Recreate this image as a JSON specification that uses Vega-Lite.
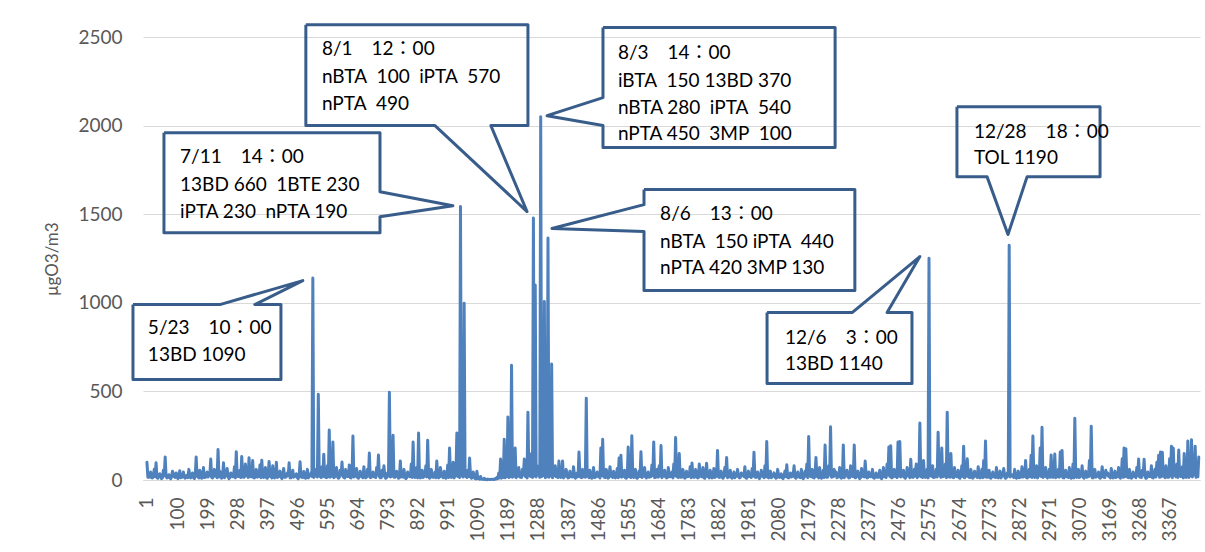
{
"$schema":"https://vega.github.io/schema/vega-lite/v6.json",
"width":1057,"height":443,
"autosize":{"type":"none"},
"padding":{"left":143,"top":37,"right":5,"bottom":72},
"background":"white",
"config":{"view":{"stroke":null},"font":"Lato","axis":{"labelOverlap":false}},
"datasets":{
"series":[
{"x":1,"y":100},{"x":4,"y":16},{"x":7,"y":15},{"x":10,"y":22},{"x":13,"y":45},{"x":16,"y":13},{"x":19,"y":12},{"x":22,"y":26},{"x":25,"y":60},{"x":28,"y":18},{"x":31,"y":97},{"x":34,"y":14},{"x":37,"y":10},{"x":40,"y":28},{"x":43,"y":35},{"x":46,"y":20},{"x":49,"y":8},{"x":52,"y":12},{"x":55,"y":55},{"x":58,"y":24},
{"x":61,"y":130},{"x":64,"y":20},{"x":67,"y":12},{"x":70,"y":14},{"x":73,"y":30},{"x":76,"y":23},{"x":79,"y":6},{"x":82,"y":17},{"x":85,"y":50},{"x":88,"y":30},{"x":91,"y":18},{"x":94,"y":15},{"x":97,"y":40},{"x":100,"y":19},{"x":103,"y":8},{"x":106,"y":25},{"x":109,"y":52},{"x":112,"y":13},{"x":115,"y":15},{"x":118,"y":18},
{"x":121,"y":45},{"x":124,"y":16},{"x":127,"y":10},{"x":130,"y":22},{"x":133,"y":28},{"x":136,"y":13},{"x":139,"y":60},{"x":142,"y":26},{"x":145,"y":12},{"x":148,"y":18},{"x":151,"y":40},{"x":154,"y":14},{"x":157,"y":8},{"x":160,"y":28},{"x":163,"y":130},{"x":166,"y":20},{"x":169,"y":20},{"x":172,"y":12},{"x":175,"y":55},{"x":178,"y":24},
{"x":181,"y":10},{"x":184,"y":20},{"x":187,"y":70},{"x":190,"y":14},{"x":193,"y":15},{"x":196,"y":23},{"x":199,"y":45},{"x":202,"y":17},{"x":205,"y":25},{"x":208,"y":30},{"x":211,"y":118},{"x":214,"y":15},{"x":217,"y":12},{"x":220,"y":19},{"x":223,"y":60},{"x":226,"y":25},{"x":229,"y":20},{"x":232,"y":13},{"x":235,"y":172},{"x":238,"y":18},
{"x":241,"y":50},{"x":244,"y":16},{"x":247,"y":10},{"x":250,"y":22},{"x":253,"y":97},{"x":256,"y":13},{"x":259,"y":22},{"x":262,"y":26},{"x":265,"y":65},{"x":268,"y":18},{"x":271,"y":8},{"x":274,"y":14},{"x":277,"y":40},{"x":280,"y":28},{"x":283,"y":18},{"x":286,"y":20},{"x":289,"y":75},{"x":292,"y":12},{"x":295,"y":160},{"x":298,"y":24},
{"x":301,"y":20},{"x":304,"y":20},{"x":307,"y":55},{"x":310,"y":14},{"x":313,"y":133},{"x":316,"y":23},{"x":319,"y":15},{"x":322,"y":17},{"x":325,"y":90},{"x":328,"y":30},{"x":331,"y":25},{"x":334,"y":15},{"x":337,"y":125},{"x":340,"y":19},{"x":343,"y":18},{"x":346,"y":25},{"x":349,"y":110},{"x":352,"y":13},{"x":355,"y":12},{"x":358,"y":18},
{"x":361,"y":60},{"x":364,"y":16},{"x":367,"y":20},{"x":370,"y":22},{"x":373,"y":85},{"x":376,"y":13},{"x":379,"y":112},{"x":382,"y":26},{"x":385,"y":15},{"x":388,"y":18},{"x":391,"y":70},{"x":394,"y":14},{"x":397,"y":10},{"x":400,"y":28},{"x":403,"y":105},{"x":406,"y":20},{"x":409,"y":22},{"x":412,"y":12},{"x":415,"y":80},{"x":418,"y":24},
{"x":421,"y":12},{"x":424,"y":20},{"x":427,"y":100},{"x":430,"y":14},{"x":433,"y":18},{"x":436,"y":23},{"x":439,"y":50},{"x":442,"y":17},{"x":445,"y":8},{"x":448,"y":30},{"x":451,"y":65},{"x":454,"y":15},{"x":457,"y":15},{"x":460,"y":19},{"x":463,"y":40},{"x":466,"y":25},{"x":469,"y":97},{"x":472,"y":13},{"x":475,"y":12},{"x":478,"y":18},
{"x":481,"y":55},{"x":484,"y":16},{"x":487,"y":20},{"x":490,"y":22},{"x":493,"y":35},{"x":496,"y":13},{"x":499,"y":8},{"x":502,"y":26},{"x":505,"y":103},{"x":508,"y":18},{"x":511,"y":15},{"x":514,"y":14},{"x":517,"y":48},{"x":520,"y":28},{"x":523,"y":10},{"x":526,"y":20},{"x":529,"y":60},{"x":532,"y":12},{"x":535,"y":25},{"x":538,"y":24},
{"x":541,"y":40},{"x":544,"y":20},{"x":547,"y":1140},{"x":550,"y":14},{"x":553,"y":30},{"x":556,"y":23},{"x":559,"y":60},{"x":562,"y":17},{"x":565,"y":484},{"x":568,"y":30},{"x":571,"y":20},{"x":574,"y":15},{"x":577,"y":75},{"x":580,"y":19},{"x":583,"y":146},{"x":586,"y":25},{"x":589,"y":15},{"x":592,"y":13},{"x":595,"y":80},{"x":598,"y":18},
{"x":601,"y":282},{"x":604,"y":16},{"x":607,"y":25},{"x":610,"y":22},{"x":613,"y":214},{"x":616,"y":13},{"x":619,"y":18},{"x":622,"y":26},{"x":625,"y":70},{"x":628,"y":18},{"x":631,"y":10},{"x":634,"y":14},{"x":637,"y":55},{"x":640,"y":28},{"x":643,"y":101},{"x":646,"y":20},{"x":649,"y":15},{"x":652,"y":12},{"x":655,"y":60},{"x":658,"y":24},
{"x":661,"y":20},{"x":664,"y":20},{"x":667,"y":85},{"x":670,"y":14},{"x":673,"y":12},{"x":676,"y":23},{"x":679,"y":248},{"x":682,"y":17},{"x":685,"y":20},{"x":688,"y":30},{"x":691,"y":65},{"x":694,"y":15},{"x":697,"y":10},{"x":700,"y":19},{"x":703,"y":50},{"x":706,"y":25},{"x":709,"y":18},{"x":712,"y":13},{"x":715,"y":75},{"x":718,"y":18},
{"x":721,"y":12},{"x":724,"y":16},{"x":727,"y":60},{"x":730,"y":22},{"x":733,"y":152},{"x":736,"y":13},{"x":739,"y":15},{"x":742,"y":26},{"x":745,"y":45},{"x":748,"y":18},{"x":751,"y":20},{"x":754,"y":14},{"x":757,"y":70},{"x":760,"y":28},{"x":763,"y":141},{"x":766,"y":20},{"x":769,"y":12},{"x":772,"y":12},{"x":775,"y":55},{"x":778,"y":24},
{"x":781,"y":80},{"x":784,"y":20},{"x":787,"y":10},{"x":790,"y":14},{"x":793,"y":40},{"x":796,"y":23},{"x":799,"y":495},{"x":802,"y":17},{"x":805,"y":20},{"x":808,"y":30},{"x":811,"y":253},{"x":814,"y":15},{"x":817,"y":15},{"x":820,"y":19},{"x":823,"y":50},{"x":826,"y":25},{"x":829,"y":10},{"x":832,"y":13},{"x":835,"y":107},{"x":838,"y":18},
{"x":841,"y":18},{"x":844,"y":16},{"x":847,"y":60},{"x":850,"y":22},{"x":853,"y":8},{"x":856,"y":13},{"x":859,"y":45},{"x":862,"y":26},{"x":865,"y":20},{"x":868,"y":18},{"x":871,"y":90},{"x":874,"y":14},{"x":877,"y":214},{"x":880,"y":28},{"x":883,"y":15},{"x":886,"y":20},{"x":889,"y":70},{"x":892,"y":12},{"x":895,"y":265},{"x":898,"y":24},
{"x":901,"y":12},{"x":904,"y":20},{"x":907,"y":55},{"x":910,"y":14},{"x":913,"y":20},{"x":916,"y":23},{"x":919,"y":80},{"x":922,"y":17},{"x":925,"y":225},{"x":928,"y":30},{"x":931,"y":10},{"x":934,"y":15},{"x":937,"y":60},{"x":940,"y":19},{"x":943,"y":15},{"x":946,"y":25},{"x":949,"y":45},{"x":952,"y":13},{"x":955,"y":107},{"x":958,"y":18},
{"x":961,"y":12},{"x":964,"y":16},{"x":967,"y":70},{"x":970,"y":22},{"x":973,"y":20},{"x":976,"y":13},{"x":979,"y":50},{"x":982,"y":26},{"x":985,"y":10},{"x":988,"y":18},{"x":991,"y":85},{"x":994,"y":14},{"x":997,"y":180},{"x":1000,"y":28},{"x":1003,"y":15},{"x":1006,"y":20},{"x":1009,"y":100},{"x":1012,"y":12},{"x":1015,"y":25},{"x":1018,"y":24},
{"x":1021,"y":265},{"x":1024,"y":20},{"x":1027,"y":40},{"x":1030,"y":14},{"x":1033,"y":1543},{"x":1036,"y":23},{"x":1039,"y":60},{"x":1042,"y":17},{"x":1045,"y":997},{"x":1048,"y":30},{"x":1051,"y":20},{"x":1054,"y":15},{"x":1057,"y":55},{"x":1060,"y":19},{"x":1063,"y":124},{"x":1066,"y":25},{"x":1069,"y":10},{"x":1072,"y":13},{"x":1075,"y":45},{"x":1078,"y":18},
{"x":1081,"y":8},{"x":1084,"y":6},{"x":1087,"y":50},{"x":1090,"y":8},{"x":1093,"y":12},{"x":1096,"y":4},{"x":1099,"y":20},{"x":1102,"y":5},{"x":1105,"y":6},{"x":1108,"y":3},{"x":1111,"y":10},{"x":1114,"y":3},{"x":1117,"y":4},{"x":1120,"y":2},{"x":1123,"y":5},{"x":1126,"y":3},{"x":1129,"y":3},{"x":1132,"y":3},{"x":1135,"y":4},{"x":1138,"y":4},
{"x":1141,"y":3},{"x":1144,"y":3},{"x":1147,"y":8},{"x":1150,"y":5},{"x":1153,"y":15},{"x":1156,"y":8},{"x":1159,"y":40},{"x":1162,"y":12},{"x":1165,"y":118},{"x":1168,"y":10},{"x":1171,"y":30},{"x":1174,"y":15},{"x":1177,"y":230},{"x":1180,"y":12},{"x":1183,"y":60},{"x":1186,"y":20},{"x":1189,"y":355},{"x":1192,"y":14},{"x":1195,"y":80},{"x":1198,"y":18},
{"x":1201,"y":648},{"x":1204,"y":16},{"x":1207,"y":40},{"x":1210,"y":22},{"x":1213,"y":180},{"x":1216,"y":13},{"x":1219,"y":20},{"x":1222,"y":26},{"x":1225,"y":70},{"x":1228,"y":18},{"x":1231,"y":15},{"x":1234,"y":14},{"x":1237,"y":60},{"x":1240,"y":28},{"x":1243,"y":118},{"x":1246,"y":20},{"x":1249,"y":30},{"x":1252,"y":12},{"x":1255,"y":383},{"x":1258,"y":24},
{"x":1261,"y":60},{"x":1264,"y":20},{"x":1267,"y":150},{"x":1270,"y":14},{"x":1273,"y":1478},{"x":1276,"y":23},{"x":1279,"y":1100},{"x":1282,"y":17},{"x":1285,"y":80},{"x":1288,"y":30},{"x":1291,"y":40},{"x":1294,"y":15},{"x":1297,"y":2050},{"x":1300,"y":19},{"x":1303,"y":60},{"x":1306,"y":25},{"x":1309,"y":1008},{"x":1312,"y":13},{"x":1315,"y":90},{"x":1318,"y":18},
{"x":1321,"y":1365},{"x":1324,"y":16},{"x":1327,"y":50},{"x":1330,"y":22},{"x":1333,"y":655},{"x":1336,"y":13},{"x":1339,"y":30},{"x":1342,"y":26},{"x":1345,"y":80},{"x":1348,"y":18},{"x":1351,"y":20},{"x":1354,"y":14},{"x":1357,"y":107},{"x":1360,"y":28},{"x":1363,"y":15},{"x":1366,"y":20},{"x":1369,"y":107},{"x":1372,"y":12},{"x":1375,"y":20},{"x":1378,"y":24},
{"x":1381,"y":60},{"x":1384,"y":20},{"x":1387,"y":12},{"x":1390,"y":14},{"x":1393,"y":50},{"x":1396,"y":23},{"x":1399,"y":18},{"x":1402,"y":17},{"x":1405,"y":75},{"x":1408,"y":30},{"x":1411,"y":10},{"x":1414,"y":15},{"x":1417,"y":40},{"x":1420,"y":19},{"x":1423,"y":158},{"x":1426,"y":25},{"x":1429,"y":15},{"x":1432,"y":13},{"x":1435,"y":60},{"x":1438,"y":18},
{"x":1441,"y":25},{"x":1444,"y":16},{"x":1447,"y":462},{"x":1450,"y":22},{"x":1453,"y":20},{"x":1456,"y":13},{"x":1459,"y":55},{"x":1462,"y":26},{"x":1465,"y":10},{"x":1468,"y":18},{"x":1471,"y":70},{"x":1474,"y":14},{"x":1477,"y":15},{"x":1480,"y":28},{"x":1483,"y":45},{"x":1486,"y":20},{"x":1489,"y":20},{"x":1492,"y":12},{"x":1495,"y":180},{"x":1498,"y":24},
{"x":1501,"y":230},{"x":1504,"y":20},{"x":1507,"y":15},{"x":1510,"y":14},{"x":1513,"y":60},{"x":1516,"y":23},{"x":1519,"y":10},{"x":1522,"y":17},{"x":1525,"y":75},{"x":1528,"y":30},{"x":1531,"y":20},{"x":1534,"y":15},{"x":1537,"y":50},{"x":1540,"y":19},{"x":1543,"y":12},{"x":1546,"y":25},{"x":1549,"y":65},{"x":1552,"y":13},{"x":1555,"y":124},{"x":1558,"y":18},
{"x":1561,"y":140},{"x":1564,"y":16},{"x":1567,"y":20},{"x":1570,"y":22},{"x":1573,"y":55},{"x":1576,"y":13},{"x":1579,"y":10},{"x":1582,"y":26},{"x":1585,"y":186},{"x":1588,"y":18},{"x":1591,"y":25},{"x":1594,"y":14},{"x":1597,"y":250},{"x":1600,"y":28},{"x":1603,"y":15},{"x":1606,"y":20},{"x":1609,"y":60},{"x":1612,"y":12},{"x":1615,"y":10},{"x":1618,"y":24},
{"x":1621,"y":50},{"x":1624,"y":20},{"x":1627,"y":160},{"x":1630,"y":14},{"x":1633,"y":20},{"x":1636,"y":23},{"x":1639,"y":70},{"x":1642,"y":17},{"x":1645,"y":12},{"x":1648,"y":30},{"x":1651,"y":45},{"x":1654,"y":15},{"x":1657,"y":25},{"x":1660,"y":19},{"x":1663,"y":85},{"x":1666,"y":25},{"x":1669,"y":215},{"x":1672,"y":13},{"x":1675,"y":15},{"x":1678,"y":18},
{"x":1681,"y":60},{"x":1684,"y":16},{"x":1687,"y":80},{"x":1690,"y":22},{"x":1693,"y":194},{"x":1696,"y":13},{"x":1699,"y":20},{"x":1702,"y":26},{"x":1705,"y":55},{"x":1708,"y":18},{"x":1711,"y":12},{"x":1714,"y":14},{"x":1717,"y":70},{"x":1720,"y":28},{"x":1723,"y":18},{"x":1726,"y":20},{"x":1729,"y":45},{"x":1732,"y":12},{"x":1735,"y":90},{"x":1738,"y":24},
{"x":1741,"y":240},{"x":1744,"y":20},{"x":1747,"y":20},{"x":1750,"y":14},{"x":1753,"y":150},{"x":1756,"y":23},{"x":1759,"y":15},{"x":1762,"y":17},{"x":1765,"y":60},{"x":1768,"y":30},{"x":1771,"y":10},{"x":1774,"y":15},{"x":1777,"y":50},{"x":1780,"y":19},{"x":1783,"y":20},{"x":1786,"y":25},{"x":1789,"y":75},{"x":1792,"y":13},{"x":1795,"y":96},{"x":1798,"y":18},
{"x":1801,"y":15},{"x":1804,"y":16},{"x":1807,"y":60},{"x":1810,"y":22},{"x":1813,"y":12},{"x":1816,"y":13},{"x":1819,"y":90},{"x":1822,"y":26},{"x":1825,"y":20},{"x":1828,"y":18},{"x":1831,"y":70},{"x":1834,"y":14},{"x":1837,"y":10},{"x":1840,"y":28},{"x":1843,"y":95},{"x":1846,"y":20},{"x":1849,"y":25},{"x":1852,"y":12},{"x":1855,"y":55},{"x":1858,"y":24},
{"x":1861,"y":12},{"x":1864,"y":20},{"x":1867,"y":65},{"x":1870,"y":14},{"x":1873,"y":20},{"x":1876,"y":23},{"x":1879,"y":167},{"x":1882,"y":17},{"x":1885,"y":15},{"x":1888,"y":30},{"x":1891,"y":50},{"x":1894,"y":15},{"x":1897,"y":10},{"x":1900,"y":19},{"x":1903,"y":70},{"x":1906,"y":25},{"x":1909,"y":127},{"x":1912,"y":13},{"x":1915,"y":18},{"x":1918,"y":18},
{"x":1921,"y":55},{"x":1924,"y":16},{"x":1927,"y":10},{"x":1930,"y":22},{"x":1933,"y":45},{"x":1936,"y":13},{"x":1939,"y":20},{"x":1942,"y":26},{"x":1945,"y":60},{"x":1948,"y":18},{"x":1951,"y":12},{"x":1954,"y":14},{"x":1957,"y":40},{"x":1960,"y":28},{"x":1963,"y":25},{"x":1966,"y":20},{"x":1969,"y":75},{"x":1972,"y":12},{"x":1975,"y":10},{"x":1978,"y":24},
{"x":1981,"y":50},{"x":1984,"y":20},{"x":1987,"y":20},{"x":1990,"y":14},{"x":1993,"y":65},{"x":1996,"y":23},{"x":1999,"y":157},{"x":2002,"y":17},{"x":2005,"y":15},{"x":2008,"y":30},{"x":2011,"y":45},{"x":2014,"y":15},{"x":2017,"y":8},{"x":2020,"y":19},{"x":2023,"y":55},{"x":2026,"y":25},{"x":2029,"y":20},{"x":2032,"y":13},{"x":2035,"y":80},{"x":2038,"y":18},
{"x":2041,"y":217},{"x":2044,"y":16},{"x":2047,"y":12},{"x":2050,"y":22},{"x":2053,"y":50},{"x":2056,"y":13},{"x":2059,"y":18},{"x":2062,"y":26},{"x":2065,"y":40},{"x":2068,"y":18},{"x":2071,"y":10},{"x":2074,"y":14},{"x":2077,"y":60},{"x":2080,"y":28},{"x":2083,"y":15},{"x":2086,"y":20},{"x":2089,"y":35},{"x":2092,"y":12},{"x":2095,"y":8},{"x":2098,"y":24},
{"x":2101,"y":50},{"x":2104,"y":20},{"x":2107,"y":86},{"x":2110,"y":14},{"x":2113,"y":12},{"x":2116,"y":23},{"x":2119,"y":40},{"x":2122,"y":17},{"x":2125,"y":20},{"x":2128,"y":30},{"x":2131,"y":80},{"x":2134,"y":15},{"x":2137,"y":10},{"x":2140,"y":19},{"x":2143,"y":45},{"x":2146,"y":25},{"x":2149,"y":15},{"x":2152,"y":13},{"x":2155,"y":60},{"x":2158,"y":18},
{"x":2161,"y":8},{"x":2164,"y":16},{"x":2167,"y":50},{"x":2170,"y":22},{"x":2173,"y":90},{"x":2176,"y":13},{"x":2179,"y":245},{"x":2182,"y":26},{"x":2185,"y":20},{"x":2188,"y":18},{"x":2191,"y":60},{"x":2194,"y":14},{"x":2197,"y":12},{"x":2200,"y":28},{"x":2203,"y":127},{"x":2206,"y":20},{"x":2209,"y":25},{"x":2212,"y":12},{"x":2215,"y":70},{"x":2218,"y":24},
{"x":2221,"y":10},{"x":2224,"y":20},{"x":2227,"y":55},{"x":2230,"y":14},{"x":2233,"y":197},{"x":2236,"y":23},{"x":2239,"y":15},{"x":2242,"y":17},{"x":2245,"y":80},{"x":2248,"y":30},{"x":2251,"y":300},{"x":2254,"y":15},{"x":2257,"y":20},{"x":2260,"y":19},{"x":2263,"y":60},{"x":2266,"y":25},{"x":2269,"y":45},{"x":2272,"y":13},{"x":2275,"y":18},{"x":2278,"y":18},
{"x":2281,"y":70},{"x":2284,"y":16},{"x":2287,"y":10},{"x":2290,"y":22},{"x":2293,"y":197},{"x":2296,"y":13},{"x":2299,"y":25},{"x":2302,"y":26},{"x":2305,"y":55},{"x":2308,"y":18},{"x":2311,"y":12},{"x":2314,"y":14},{"x":2317,"y":80},{"x":2320,"y":28},{"x":2323,"y":20},{"x":2326,"y":20},{"x":2329,"y":197},{"x":2332,"y":12},{"x":2335,"y":15},{"x":2338,"y":24},
{"x":2341,"y":50},{"x":2344,"y":20},{"x":2347,"y":8},{"x":2350,"y":14},{"x":2353,"y":65},{"x":2356,"y":23},{"x":2359,"y":20},{"x":2362,"y":17},{"x":2365,"y":107},{"x":2368,"y":30},{"x":2371,"y":12},{"x":2374,"y":15},{"x":2377,"y":45},{"x":2380,"y":19},{"x":2383,"y":18},{"x":2386,"y":25},{"x":2389,"y":60},{"x":2392,"y":13},{"x":2395,"y":10},{"x":2398,"y":18},
{"x":2401,"y":40},{"x":2404,"y":16},{"x":2407,"y":15},{"x":2410,"y":22},{"x":2413,"y":55},{"x":2416,"y":13},{"x":2419,"y":8},{"x":2422,"y":26},{"x":2425,"y":70},{"x":2428,"y":18},{"x":2431,"y":20},{"x":2434,"y":14},{"x":2437,"y":90},{"x":2440,"y":28},{"x":2443,"y":186},{"x":2446,"y":20},{"x":2449,"y":193},{"x":2452,"y":12},{"x":2455,"y":15},{"x":2458,"y":24},
{"x":2461,"y":60},{"x":2464,"y":20},{"x":2467,"y":25},{"x":2470,"y":14},{"x":2473,"y":214},{"x":2476,"y":23},{"x":2479,"y":217},{"x":2482,"y":17},{"x":2485,"y":20},{"x":2488,"y":30},{"x":2491,"y":55},{"x":2494,"y":15},{"x":2497,"y":10},{"x":2500,"y":19},{"x":2503,"y":70},{"x":2506,"y":25},{"x":2509,"y":25},{"x":2512,"y":13},{"x":2515,"y":117},{"x":2518,"y":18},
{"x":2521,"y":15},{"x":2524,"y":16},{"x":2527,"y":60},{"x":2530,"y":22},{"x":2533,"y":90},{"x":2536,"y":13},{"x":2539,"y":20},{"x":2542,"y":26},{"x":2545,"y":321},{"x":2548,"y":18},{"x":2551,"y":30},{"x":2554,"y":14},{"x":2557,"y":110},{"x":2560,"y":28},{"x":2563,"y":15},{"x":2566,"y":20},{"x":2569,"y":60},{"x":2572,"y":12},{"x":2575,"y":1252},{"x":2578,"y":24},
{"x":2581,"y":40},{"x":2584,"y":20},{"x":2587,"y":80},{"x":2590,"y":14},{"x":2593,"y":15},{"x":2596,"y":23},{"x":2599,"y":60},{"x":2602,"y":17},{"x":2605,"y":270},{"x":2608,"y":30},{"x":2611,"y":30},{"x":2614,"y":15},{"x":2617,"y":180},{"x":2620,"y":19},{"x":2623,"y":20},{"x":2626,"y":25},{"x":2629,"y":90},{"x":2632,"y":13},{"x":2635,"y":383},{"x":2638,"y":18},
{"x":2641,"y":25},{"x":2644,"y":16},{"x":2647,"y":150},{"x":2650,"y":22},{"x":2653,"y":15},{"x":2656,"y":13},{"x":2659,"y":70},{"x":2662,"y":26},{"x":2665,"y":20},{"x":2668,"y":18},{"x":2671,"y":55},{"x":2674,"y":14},{"x":2677,"y":10},{"x":2680,"y":28},{"x":2683,"y":80},{"x":2686,"y":20},{"x":2689,"y":191},{"x":2692,"y":12},{"x":2695,"y":20},{"x":2698,"y":24},
{"x":2701,"y":120},{"x":2704,"y":20},{"x":2707,"y":15},{"x":2710,"y":14},{"x":2713,"y":60},{"x":2716,"y":23},{"x":2719,"y":10},{"x":2722,"y":17},{"x":2725,"y":50},{"x":2728,"y":30},{"x":2731,"y":20},{"x":2734,"y":15},{"x":2737,"y":75},{"x":2740,"y":19},{"x":2743,"y":12},{"x":2746,"y":25},{"x":2749,"y":60},{"x":2752,"y":13},{"x":2755,"y":110},{"x":2758,"y":18},
{"x":2761,"y":220},{"x":2764,"y":16},{"x":2767,"y":15},{"x":2770,"y":22},{"x":2773,"y":55},{"x":2776,"y":13},{"x":2779,"y":10},{"x":2782,"y":26},{"x":2785,"y":45},{"x":2788,"y":18},{"x":2791,"y":20},{"x":2794,"y":14},{"x":2797,"y":70},{"x":2800,"y":28},{"x":2803,"y":12},{"x":2806,"y":20},{"x":2809,"y":50},{"x":2812,"y":12},{"x":2815,"y":25},{"x":2818,"y":24},
{"x":2821,"y":65},{"x":2824,"y":20},{"x":2827,"y":10},{"x":2830,"y":14},{"x":2833,"y":40},{"x":2836,"y":23},{"x":2839,"y":1325},{"x":2842,"y":17},{"x":2845,"y":30},{"x":2848,"y":30},{"x":2851,"y":20},{"x":2854,"y":15},{"x":2857,"y":60},{"x":2860,"y":19},{"x":2863,"y":10},{"x":2866,"y":25},{"x":2869,"y":50},{"x":2872,"y":13},{"x":2875,"y":15},{"x":2878,"y":18},
{"x":2881,"y":75},{"x":2884,"y":16},{"x":2887,"y":20},{"x":2890,"y":22},{"x":2893,"y":110},{"x":2896,"y":13},{"x":2899,"y":12},{"x":2902,"y":26},{"x":2905,"y":60},{"x":2908,"y":18},{"x":2911,"y":140},{"x":2914,"y":14},{"x":2917,"y":248},{"x":2920,"y":28},{"x":2923,"y":15},{"x":2926,"y":20},{"x":2929,"y":80},{"x":2932,"y":12},{"x":2935,"y":25},{"x":2938,"y":24},
{"x":2941,"y":180},{"x":2944,"y":20},{"x":2947,"y":298},{"x":2950,"y":14},{"x":2953,"y":20},{"x":2956,"y":23},{"x":2959,"y":70},{"x":2962,"y":17},{"x":2965,"y":12},{"x":2968,"y":30},{"x":2971,"y":60},{"x":2974,"y":15},{"x":2977,"y":141},{"x":2980,"y":19},{"x":2983,"y":15},{"x":2986,"y":25},{"x":2989,"y":147},{"x":2992,"y":13},{"x":2995,"y":20},{"x":2998,"y":18},
{"x":3001,"y":60},{"x":3004,"y":16},{"x":3007,"y":158},{"x":3010,"y":22},{"x":3013,"y":167},{"x":3016,"y":13},{"x":3019,"y":12},{"x":3022,"y":26},{"x":3025,"y":55},{"x":3028,"y":18},{"x":3031,"y":20},{"x":3034,"y":14},{"x":3037,"y":70},{"x":3040,"y":28},{"x":3043,"y":10},{"x":3046,"y":20},{"x":3049,"y":90},{"x":3052,"y":12},{"x":3055,"y":349},{"x":3058,"y":24},
{"x":3061,"y":15},{"x":3064,"y":20},{"x":3067,"y":60},{"x":3070,"y":14},{"x":3073,"y":25},{"x":3076,"y":23},{"x":3079,"y":80},{"x":3082,"y":17},{"x":3085,"y":10},{"x":3088,"y":30},{"x":3091,"y":50},{"x":3094,"y":15},{"x":3097,"y":20},{"x":3100,"y":19},{"x":3103,"y":110},{"x":3106,"y":25},{"x":3109,"y":304},{"x":3112,"y":13},{"x":3115,"y":12},{"x":3118,"y":18},
{"x":3121,"y":60},{"x":3124,"y":16},{"x":3127,"y":20},{"x":3130,"y":22},{"x":3133,"y":45},{"x":3136,"y":13},{"x":3139,"y":10},{"x":3142,"y":26},{"x":3145,"y":75},{"x":3148,"y":18},{"x":3151,"y":15},{"x":3154,"y":14},{"x":3157,"y":55},{"x":3160,"y":28},{"x":3163,"y":40},{"x":3166,"y":20},{"x":3169,"y":20},{"x":3172,"y":12},{"x":3175,"y":65},{"x":3178,"y":24},
{"x":3181,"y":12},{"x":3184,"y":20},{"x":3187,"y":50},{"x":3190,"y":14},{"x":3193,"y":18},{"x":3196,"y":23},{"x":3199,"y":70},{"x":3202,"y":17},{"x":3205,"y":10},{"x":3208,"y":30},{"x":3211,"y":120},{"x":3214,"y":15},{"x":3217,"y":180},{"x":3220,"y":19},{"x":3223,"y":177},{"x":3226,"y":25},{"x":3229,"y":15},{"x":3232,"y":13},{"x":3235,"y":60},{"x":3238,"y":18},
{"x":3241,"y":10},{"x":3244,"y":16},{"x":3247,"y":45},{"x":3250,"y":22},{"x":3253,"y":20},{"x":3256,"y":13},{"x":3259,"y":70},{"x":3262,"y":26},{"x":3265,"y":118},{"x":3268,"y":18},{"x":3271,"y":15},{"x":3274,"y":14},{"x":3277,"y":55},{"x":3280,"y":28},{"x":3283,"y":117},{"x":3286,"y":20},{"x":3289,"y":10},{"x":3292,"y":12},{"x":3295,"y":45},{"x":3298,"y":24},
{"x":3301,"y":20},{"x":3304,"y":20},{"x":3307,"y":80},{"x":3310,"y":14},{"x":3313,"y":12},{"x":3316,"y":23},{"x":3319,"y":60},{"x":3322,"y":17},{"x":3325,"y":100},{"x":3328,"y":30},{"x":3331,"y":140},{"x":3334,"y":15},{"x":3337,"y":158},{"x":3340,"y":19},{"x":3343,"y":157},{"x":3346,"y":25},{"x":3349,"y":20},{"x":3352,"y":13},{"x":3355,"y":80},{"x":3358,"y":18},
{"x":3361,"y":15},{"x":3364,"y":16},{"x":3367,"y":120},{"x":3370,"y":22},{"x":3373,"y":191},{"x":3376,"y":13},{"x":3379,"y":180},{"x":3382,"y":26},{"x":3385,"y":25},{"x":3388,"y":18},{"x":3391,"y":90},{"x":3394,"y":14},{"x":3397,"y":169},{"x":3400,"y":28},{"x":3403,"y":20},{"x":3406,"y":20},{"x":3409,"y":75},{"x":3412,"y":12},{"x":3415,"y":150},{"x":3418,"y":24},
{"x":3421,"y":15},{"x":3424,"y":20},{"x":3427,"y":220},{"x":3430,"y":14},{"x":3433,"y":30},{"x":3436,"y":23},{"x":3439,"y":227},{"x":3442,"y":17},{"x":3445,"y":40},{"x":3448,"y":30},{"x":3451,"y":191},{"x":3454,"y":15},{"x":3457,"y":20},{"x":3460,"y":19},{"x":3463,"y":130}
],
"callouts":[
{"c":1,"o":1,"x":-45,"y":990},{"c":1,"o":2,"x":241,"y":990},{"c":1,"o":3,"x":514,"y":1125},{"c":1,"o":4,"x":356,"y":990},{"c":1,"o":5,"x":442,"y":990},{"c":1,"o":6,"x":442,"y":567},{"c":1,"o":7,"x":-45,"y":567},{"c":1,"o":8,"x":-45,"y":990},
{"c":2,"o":1,"x":57,"y":1960},{"c":2,"o":2,"x":768,"y":1960},{"c":2,"o":3,"x":768,"y":1627},{"c":2,"o":4,"x":1008,"y":1548},{"c":2,"o":5,"x":768,"y":1486},{"c":2,"o":6,"x":768,"y":1396},{"c":2,"o":7,"x":57,"y":1396},{"c":2,"o":8,"x":57,"y":1960},
{"c":3,"o":1,"x":524,"y":2569},{"c":3,"o":2,"x":1255,"y":2569},{"c":3,"o":3,"x":1255,"y":2000},{"c":3,"o":4,"x":1133,"y":2000},{"c":3,"o":5,"x":1252,"y":1515},{"c":3,"o":6,"x":949,"y":2000},{"c":3,"o":7,"x":524,"y":2000},{"c":3,"o":8,"x":524,"y":2569},
{"c":4,"o":1,"x":1502,"y":2553},{"c":4,"o":2,"x":2266,"y":2553},{"c":4,"o":3,"x":2266,"y":1876},{"c":4,"o":4,"x":1502,"y":1876},{"c":4,"o":5,"x":1502,"y":2000},{"c":4,"o":6,"x":1318,"y":2056},{"c":4,"o":7,"x":1502,"y":2158},{"c":4,"o":8,"x":1502,"y":2553},
{"c":5,"o":1,"x":1637,"y":1639},{"c":5,"o":2,"x":2331,"y":1639},{"c":5,"o":3,"x":2331,"y":1069},{"c":5,"o":4,"x":1637,"y":1069},{"c":5,"o":5,"x":1637,"y":1402},{"c":5,"o":6,"x":1334,"y":1419},{"c":5,"o":7,"x":1637,"y":1554},{"c":5,"o":8,"x":1637,"y":1639},
{"c":6,"o":1,"x":2042,"y":945},{"c":6,"o":2,"x":2322,"y":945},{"c":6,"o":3,"x":2545,"y":1261},{"c":6,"o":4,"x":2437,"y":945},{"c":6,"o":5,"x":2519,"y":945},{"c":6,"o":6,"x":2519,"y":544},{"c":6,"o":7,"x":2042,"y":544},{"c":6,"o":8,"x":2042,"y":945},
{"c":7,"o":1,"x":2667,"y":2107},{"c":7,"o":2,"x":3138,"y":2107},{"c":7,"o":3,"x":3138,"y":1712},{"c":7,"o":4,"x":2898,"y":1712},{"c":7,"o":5,"x":2835,"y":1385},{"c":7,"o":6,"x":2766,"y":1712},{"c":7,"o":7,"x":2667,"y":1712},{"c":7,"o":8,"x":2667,"y":2107}
],
"labels":[
{"x":4,"y":860,"t":"5/23\u300010：00"},{"x":4,"y":708,"t":"13BD 1090"},
{"x":110,"y":1825,"t":"7/11\u300014：00"},{"x":110,"y":1667,"t":"13BD 660\u20021BTE 230"},{"x":110,"y":1515,"t":"iPTA 230\u2002nPTA 190"},
{"x":577,"y":2434,"t":"8/1\u300012：00"},{"x":577,"y":2276,"t":"nBTA\u2002100\u2002iPTA\u2002570"},{"x":577,"y":2124,"t":"nPTA\u2002490"},
{"x":1551,"y":2411,"t":"8/3\u300014：00"},{"x":1551,"y":2254,"t":"iBTA\u2002150 13BD 370"},{"x":1551,"y":2101,"t":"nBTA 280\u2002iPTA\u2002540"},{"x":1551,"y":1955,"t":"nPTA 450\u20023MP\u2002100"},
{"x":1690,"y":1503,"t":"8/6\u300013：00"},{"x":1690,"y":1345,"t":"nBTA\u2002150 iPTA\u2002440"},{"x":1690,"y":1199,"t":"nPTA 420 3MP 130"},
{"x":2101,"y":804,"t":"12/6\u30003：00"},{"x":2101,"y":657,"t":"13BD 1140"},
{"x":2723,"y":1966,"t":"12/28\u300018：00"},{"x":2723,"y":1819,"t":"TOL 1190"}
]
},
"layer":[
{"data":{"name":"series"},
"mark":{"type":"line","color":"#4F81BD","strokeWidth":3,"strokeJoin":"round","strokeCap":"round"},
"encoding":{
"x":{"field":"x","type":"quantitative","scale":{"domain":[-12,3467],"nice":false,"zero":false},
"axis":{"title":null,"values":[1,100,199,298,397,496,595,694,793,892,991,1090,1189,1288,1387,1486,1585,1684,1783,1882,1981,2080,2179,2278,2377,2476,2575,2674,2773,2872,2971,3070,3169,3268,3367],"tickCount":100,"format":"d","labelAngle":-90,"labelPadding":17,"ticks":false,"grid":false,"domainColor":"#D9D9D9","domainWidth":1,"labelColor":"#595959","labelFont":"Lato","labelFontSize":19,"labelOverlap":false,"labelFlush":false,"labelBound":false}},
"y":{"field":"y","type":"quantitative","scale":{"domain":[0,2500],"nice":false},
"axis":{"title":"μgO3/m3","values":[0,500,1000,1500,2000,2500],"tickCount":10,"format":"d","ticks":false,"domain":false,"grid":true,"gridColor":"#D9D9D9","gridWidth":1,"labelPadding":21,"labelColor":"#595959","labelFont":"Lato","labelFontSize":19,"titleFont":"Lato","titleFontSize":17,"titleFontWeight":"normal","titleColor":"#595959","titlePadding":16}}
}},
{"data":{"name":"callouts"},
"mark":{"type":"line","color":"#385D8A","strokeWidth":3,"strokeJoin":"round"},
"encoding":{
"x":{"field":"x","type":"quantitative"},
"y":{"field":"y","type":"quantitative"},
"detail":{"field":"c","type":"nominal"},
"order":{"field":"o","type":"quantitative"}
}},
{"data":{"name":"labels"},
"mark":{"type":"text","align":"left","baseline":"middle","font":"Lato, Noto Sans CJK JP","fontSize":19,"color":"#000000"},
"encoding":{
"x":{"field":"x","type":"quantitative"},
"y":{"field":"y","type":"quantitative"},
"text":{"field":"t","type":"nominal"}
}}
]
}
